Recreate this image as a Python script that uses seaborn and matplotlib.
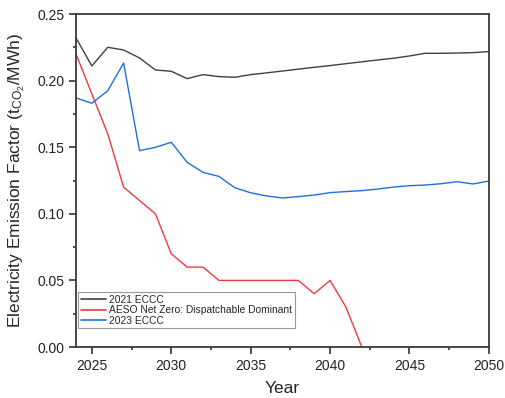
import numpy as np
import pandas as pd
import matplotlib
matplotlib.use("Agg")
import matplotlib.pyplot as plt
from matplotlib.ticker import MultipleLocator
import seaborn as sns

# Emission factor projections (tCO2/MWh)
years_2021 = list(range(2024, 2051))
eccc_2021 = [0.232, 0.211, 0.225, 0.223, 0.217, 0.208, 0.207, 0.2015, 0.2045,
             0.203, 0.2025, 0.2045, 0.2058, 0.2072, 0.2086, 0.210, 0.2113,
             0.2127, 0.2141, 0.2155, 0.2168, 0.2185, 0.2205, 0.2205, 0.2207,
             0.221, 0.2218]

years_aeso = list(range(2024, 2043))
aeso_nz = [0.22, 0.19, 0.16, 0.12, 0.11, 0.10, 0.07, 0.06, 0.06, 0.05, 0.05,
           0.05, 0.05, 0.05, 0.05, 0.04, 0.05, 0.03, 0.0]

years_2023 = list(range(2024, 2051))
eccc_2023 = [0.187, 0.183, 0.1924, 0.2132, 0.1474, 0.1499, 0.1537, 0.1387,
             0.1311, 0.1281, 0.1196, 0.1158, 0.1134, 0.1119, 0.1129, 0.1141,
             0.1159, 0.1167, 0.1174, 0.1186, 0.1201, 0.1211, 0.1216, 0.1226,
             0.1241, 0.1224, 0.1246]

series_names = ["2021 ECCC", "AESO Net Zero: Dispatchable Dominant", "2023 ECCC"]
series_colors = ["#404040", "#EE3A3F", "#1F6FD8"]

df = pd.concat([
    pd.DataFrame({"Year": years_2021, "Factor": eccc_2021, "Scenario": series_names[0]}),
    pd.DataFrame({"Year": years_aeso, "Factor": aeso_nz, "Scenario": series_names[1]}),
    pd.DataFrame({"Year": years_2023, "Factor": eccc_2023, "Scenario": series_names[2]}),
], ignore_index=True)

sns.set_style("ticks")
plt.rcParams["font.family"] = ["Liberation Sans", "DejaVu Sans"]
plt.rcParams["mathtext.fontset"] = "custom"
plt.rcParams["mathtext.rm"] = "Liberation Sans"
plt.rcParams["mathtext.it"] = "Liberation Sans"

fig = plt.figure(figsize=(5.05, 3.98), dpi=100)
ax = fig.add_axes([0.1505, 0.1281, 0.8175, 0.8367])

sns.lineplot(data=df, x="Year", y="Factor", hue="Scenario",
             hue_order=series_names, palette=dict(zip(series_names, series_colors)),
             linewidth=1.0, ax=ax, estimator=None, sort=True)

ax.set_xlim(2024, 2050)
ax.set_ylim(0, 0.25)
ax.xaxis.set_major_locator(MultipleLocator(5))
ax.xaxis.set_minor_locator(MultipleLocator(2.5))
ax.yaxis.set_major_locator(MultipleLocator(0.05))
ax.yaxis.set_minor_locator(MultipleLocator(0.025))
ax.yaxis.set_major_formatter(matplotlib.ticker.FormatStrFormatter("%.2f"))

ax.tick_params(axis="both", which="major", direction="out", length=5, width=1.1,
               labelsize=10, colors="#222222", labelcolor="#222222")
ax.tick_params(axis="both", which="minor", direction="out", length=2.5, width=1.1,
               colors="#222222")
for side in ["left", "bottom", "top", "right"]:
    ax.spines[side].set_visible(True)
    ax.spines[side].set_linewidth(1.3)
    ax.spines[side].set_color("#3a3a3a")

ax.set_xlabel("Year", fontsize=12.5, labelpad=6)
ax.set_ylabel(r"Electricity Emission Factor (t$_{\mathregular{CO_2}}$/MWh)",
              fontsize=12.5, labelpad=7)

leg = ax.legend(loc="lower left", bbox_to_anchor=(0.0, 0.05), fontsize=7.4,
                frameon=True, fancybox=False, edgecolor="#7f7f7f",
                handlelength=2.5, handletextpad=0.3, borderpad=0.25,
                labelspacing=0.05, borderaxespad=0.2)
leg.get_frame().set_linewidth(0.8)
for line in leg.get_lines():
    line.set_linewidth(1.2)

fig.savefig("out.png", dpi=100)
